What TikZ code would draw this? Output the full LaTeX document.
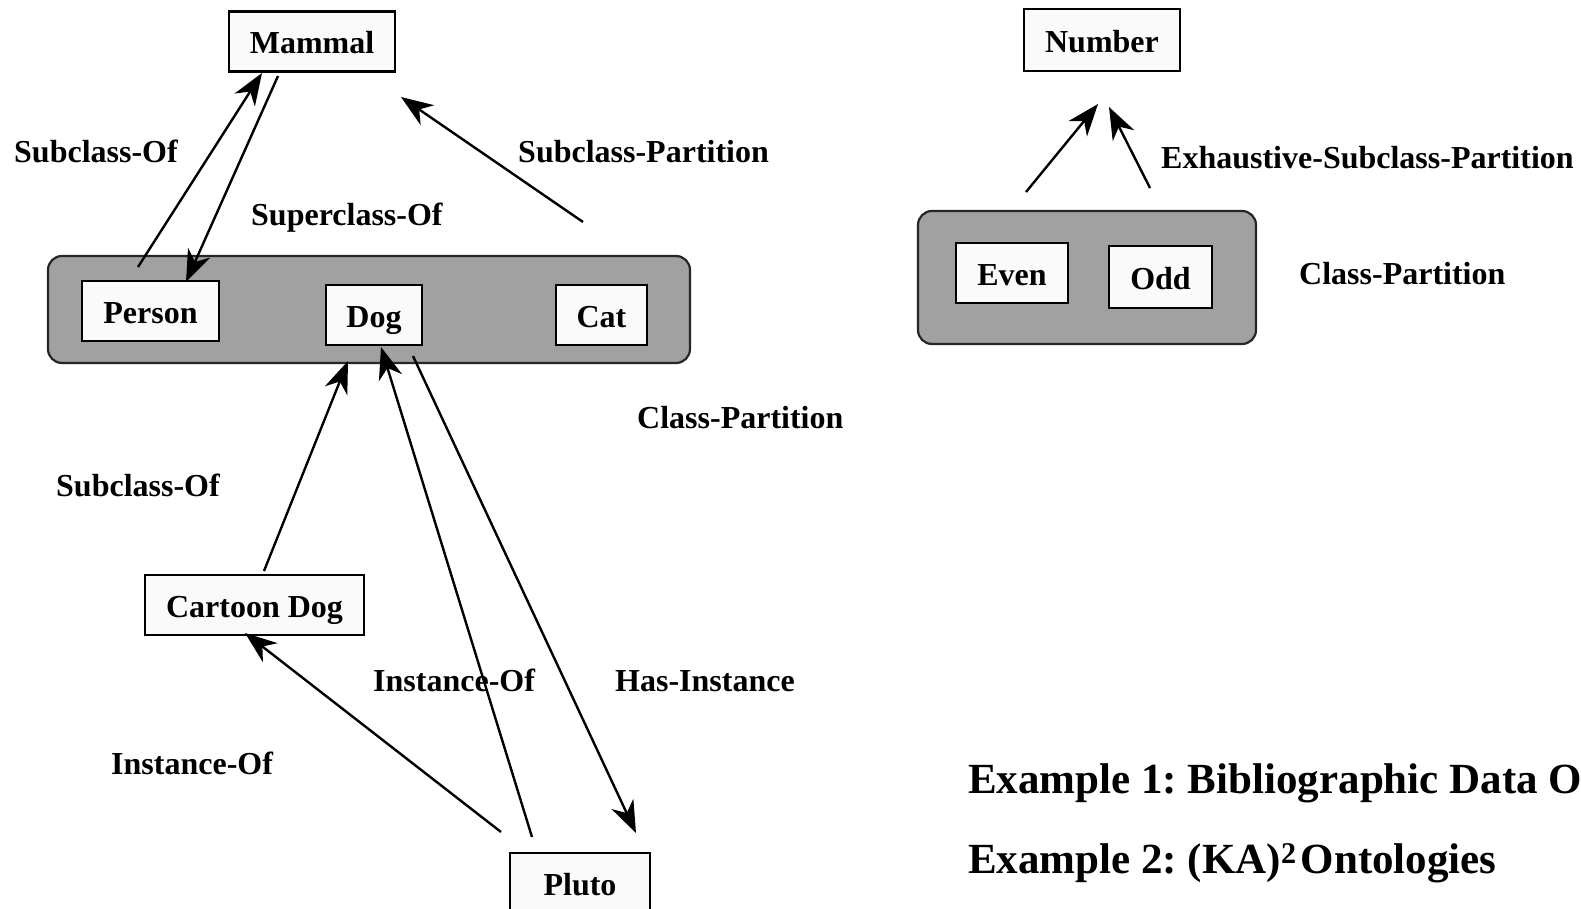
\documentclass[tikz,border=0pt]{standalone}
\usepackage{fontspec}
\setmainfont{Liberation Serif}
\usetikzlibrary{arrows.meta}
\frenchspacing
\newcommand\lblfont{\fontsize{32}{38}\selectfont\bfseries}
\newcommand\capfont{\fontsize{43}{52}\selectfont\bfseries}
\tikzset{
  cls/.style={draw=black, line width=2.4pt, fill=black!2, minimum height=60pt,
              inner sep=0pt, font=\lblfont, text height=25pt, text depth=0pt},
  grp/.style={draw=black!85, line width=2.2pt, fill=black!37, rounded corners=14pt},
  rel/.style={font=\lblfont, anchor=west, inner sep=0pt, text height=23pt, text depth=0pt},
  tipshape/.tip={Stealth[length=32pt,width=24pt,inset=10pt]},
  link/.style={line width=2.4pt, -tipshape},
}
\begin{document}
\begin{tikzpicture}[x=1pt,y=-1pt]
  \useasboundingbox (0,0) rectangle (1581,909);
  \clip (0,0) rectangle (1581,909);

  % ---- left: mammals ----
  \draw[grp] (48,256) rectangle (690,363);
  \node[cls, minimum width=166pt] (mammal) at (312,41.5) {Mammal};
  \node[cls, minimum width=137pt] (person) at (150.5,311) {Person};
  \node[cls, minimum width=96pt]  (dog)    at (374,315) {Dog};
  \node[cls, minimum width=91pt]  (cat)    at (601.5,315) {Cat};
  \node[cls, minimum width=219pt] (cartoon) at (254.5,605) {Cartoon Dog};
  \node[cls, minimum width=140pt, minimum height=74pt, anchor=north] (pluto) at (580,852) {};
  \node[font=\lblfont, inner sep=0pt, text height=25pt, text depth=0pt] (plutotxt) at (580,883) {Pluto};

  \coordinate (a1s) at (138,267);  \coordinate (a1e) at (262,73);
  \coordinate (a2s) at (278,76);   \coordinate (a2e) at (186,282);
  \coordinate (a3s) at (583,222);  \coordinate (a3e) at (401,97);
  \coordinate (a4s) at (264,571);  \coordinate (a4e) at (348,361);
  \coordinate (a5s) at (532,837);  \coordinate (a5e) at (381,347);
  \coordinate (a6s) at (413,356);  \coordinate (a6e) at (636,833);
  \coordinate (a7s) at (501,832);  \coordinate (a7e) at (245,633);

  \draw[link] (a1s) -- (a1e);
  \draw[link] (a2s) -- (a2e);
  \draw[link] (a3s) -- (a3e);
  \draw[link] (a4s) -- (a4e);
  \draw[link] (a5s) -- (a5e);
  \draw[link] (a6s) -- (a6e);
  \draw[link] (a7s) -- (a7e);

  \node[rel] (l1) at (14,151)  {Subclass-Of};
  \node[rel] (l2) at (251,214) {Superclass-Of};
  \node[rel] (l3) at (518,151) {Subclass-Partition};
  \node[rel] (l4) at (637,417) {Class-Partition};
  \node[rel] (l5) at (56,485)  {Subclass-Of};
  \node[rel] (l6) at (373,680) {Instance-Of};
  \node[rel] (l7) at (615,680) {Has-Instance};
  \node[rel] (l8) at (111,763) {Instance-Of};

  % ---- right: numbers ----
  \draw[grp] (918,211) rectangle (1256,344);
  \node[cls, minimum width=156pt, minimum height=62pt] (number) at (1102,40) {Number};
  \node[cls, minimum width=112pt] (even) at (1012,273) {Even};
  \node[cls, minimum width=103pt, minimum height=62pt] (odd) at (1160.5,277) {Odd};

  \coordinate (b1s) at (1026,192); \coordinate (b1e) at (1098,104);
  \coordinate (b2s) at (1150,188); \coordinate (b2e) at (1109,107);
  \draw[link] (b1s) -- (b1e);
  \draw[link] (b2s) -- (b2e);

  \node[rel] (r1) at (1161,157) {Exhaustive-Subclass-Partition};
  \node[rel] (r2) at (1299,273) {Class-Partition};

  % ---- captions ----
  \node[font=\capfont, anchor=base west, inner sep=0pt] (ex1) at (968,793)
    {Example 1: Bibliographic Data Ontology};
  \node[font=\capfont, anchor=base west, inner sep=0pt] (ex2) at (968,873)
    {Example 2: (KA)\textsuperscript{2}\hspace{4pt}Ontologies};
\end{tikzpicture}
\end{document}
